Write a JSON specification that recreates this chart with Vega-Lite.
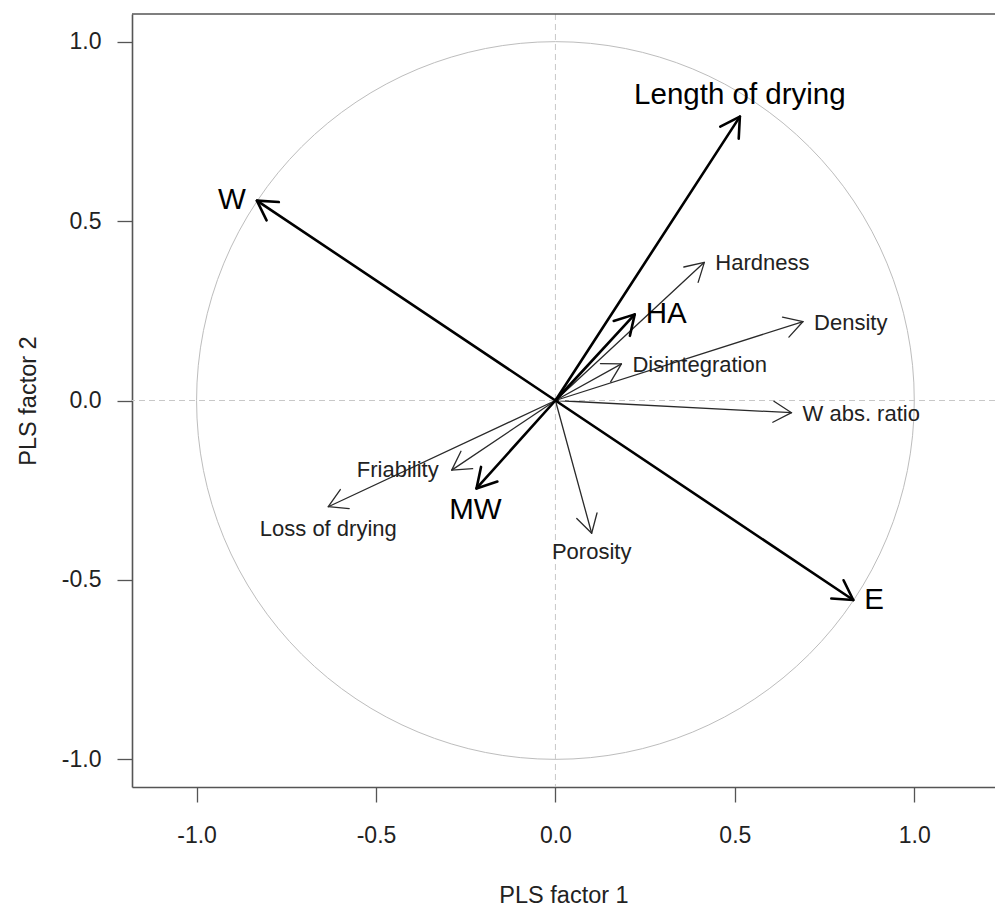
{
  "$schema": "https://vega.github.io/schema/vega-lite/v6.json",
  "width": 863,
  "height": 773,
  "autosize": {"type": "none"},
  "padding": {"left": 132, "top": 14, "right": 0, "bottom": 119},
  "background": "white",
  "config": {
    "view": {"stroke": null},
    "font": "Liberation Sans",
    "axis": {
      "grid": false, "domainColor": "#555555", "domainWidth": 1.6,
      "tickColor": "#555555", "tickWidth": 1.3, "tickSize": 15,
      "labelFont": "Liberation Sans", "labelFontSize": 23, "labelColor": "#222222",
      "titleFont": "Liberation Sans", "titleFontSize": 23.5, "titleFontWeight": "normal", "titleColor": "#222222"
    },
    "axisX": {"labelPadding": 22, "titlePadding": 36},
    "axisY": {"labelPadding": 16, "titlePadding": 21}
  },
  "datasets": {
    "vars": [
      {"name": "W", "x": -0.832, "y": 0.557, "set": "X"},
      {"name": "Length of drying", "x": 0.514, "y": 0.791, "set": "X"},
      {"name": "HA", "x": 0.221, "y": 0.240, "set": "X"},
      {"name": "E", "x": 0.830, "y": -0.556, "set": "X"},
      {"name": "MW", "x": -0.220, "y": -0.245, "set": "X"},
      {"name": "Hardness", "x": 0.415, "y": 0.385, "set": "Y"},
      {"name": "Density", "x": 0.690, "y": 0.220, "set": "Y"},
      {"name": "Disintegration", "x": 0.184, "y": 0.102, "set": "Y"},
      {"name": "W abs. ratio", "x": 0.658, "y": -0.034, "set": "Y"},
      {"name": "Friability", "x": -0.289, "y": -0.194, "set": "Y"},
      {"name": "Loss of drying", "x": -0.633, "y": -0.296, "set": "Y"},
      {"name": "Porosity", "x": 0.101, "y": -0.370, "set": "Y"}
    ]
  },
  "layer": [
    {
      "data": {"name": "vars"},
      "transform": [{"filter": "datum.set === 'Y'"}],
      "mark": {"type": "rule", "color": "#2a2a2a", "strokeWidth": 1.3, "strokeCap": "round"},
      "encoding": {
        "x": {
          "field": "x", "type": "quantitative",
          "scale": {"domain": [-1.18, 1.225], "nice": false, "zero": false},
          "axis": {
            "title": "PLS factor 1", "values": [-1, -0.5, 0, 0.5, 1],
            "labelExpr": "replace(format(datum.value, '.1f'), '\u2212', '-')"
          }
        },
        "y": {
          "field": "y", "type": "quantitative",
          "scale": {"domain": [-1.077, 1.077], "nice": false, "zero": false},
          "axis": {
            "title": "PLS factor 2", "values": [-1, -0.5, 0, 0.5, 1],
            "labelExpr": "replace(format(datum.value, '.1f'), '\u2212', '-')"
          }
        },
        "x2": {"datum": 0},
        "y2": {"datum": 0}
      }
    },
    {
      "data": {"values": [{}]},
      "mark": {"type": "point", "shape": "circle", "size": 515100, "filled": false, "stroke": "#bdbdbd", "strokeWidth": 1, "opacity": 1},
      "encoding": {
        "x": {"datum": 0, "type": "quantitative"},
        "y": {"datum": 0, "type": "quantitative"}
      }
    },
    {
      "data": {"values": [{}]},
      "mark": {"type": "rule", "color": "#c8c8c8", "strokeDash": [6, 4], "strokeWidth": 1},
      "encoding": {
        "x": {"datum": 0, "type": "quantitative"}
      }
    },
    {
      "data": {"values": [{}]},
      "mark": {"type": "rule", "color": "#c8c8c8", "strokeDash": [6, 4], "strokeWidth": 1},
      "encoding": {
        "y": {"datum": 0, "type": "quantitative"}
      }
    },
    {
      "data": {"values": [{}]},
      "mark": {"type": "rule", "color": "#555555", "strokeWidth": 1.6},
      "encoding": {
        "y": {"datum": 1.077, "type": "quantitative"}
      }
    },
    {
      "data": {"name": "vars"},
      "transform": [{"filter": "datum.set === 'Y'"}, {"calculate": "atan2(-datum.y, datum.x) * 180 / PI", "as": "ang"}],
      "mark": {"type": "point", "shape": "M-0.866,-0.5L0,0L-0.866,0.5", "size": 1764, "filled": false, "stroke": "#2a2a2a", "strokeWidth": 1.3, "strokeJoin": "round", "strokeCap": "round", "opacity": 1},
      "encoding": {
        "x": {"field": "x", "type": "quantitative"},
        "y": {"field": "y", "type": "quantitative"},
        "angle": {"field": "ang", "type": "quantitative", "scale": null}
      }
    },
    {
      "data": {"name": "vars"},
      "transform": [{"filter": "datum.set === 'X'"}],
      "mark": {"type": "rule", "color": "#000000", "strokeWidth": 2.6, "strokeCap": "round"},
      "encoding": {
        "x": {"field": "x", "type": "quantitative"},
        "y": {"field": "y", "type": "quantitative"},
        "x2": {"datum": 0},
        "y2": {"datum": 0}
      }
    },
    {
      "data": {"name": "vars"},
      "transform": [{"filter": "datum.set === 'X'"}, {"calculate": "atan2(-datum.y, datum.x) * 180 / PI", "as": "ang"}],
      "mark": {"type": "point", "shape": "M-0.866,-0.5L0,0L-0.866,0.5", "size": 1936, "filled": false, "stroke": "#000000", "strokeWidth": 2.6, "strokeJoin": "round", "strokeCap": "round", "opacity": 1},
      "encoding": {
        "x": {"field": "x", "type": "quantitative"},
        "y": {"field": "y", "type": "quantitative"},
        "angle": {"field": "ang", "type": "quantitative", "scale": null}
      }
    },
    {
      "data": {"name": "vars"},
      "transform": [{"filter": {"field": "name", "oneOf": ["Hardness", "Density", "Disintegration", "W abs. ratio"]}}],
      "mark": {"type": "text", "align": "left", "baseline": "middle", "dx": 11, "dy": 1, "font": "Liberation Sans", "fontSize": 22, "color": "#222222"},
      "encoding": {
        "x": {"field": "x", "type": "quantitative"},
        "y": {"field": "y", "type": "quantitative"},
        "text": {"field": "name"}
      }
    },
    {
      "data": {"name": "vars"},
      "transform": [{"filter": {"field": "name", "oneOf": ["Friability"]}}],
      "mark": {"type": "text", "align": "right", "baseline": "middle", "dx": -13, "dy": 0, "font": "Liberation Sans", "fontSize": 22, "color": "#222222"},
      "encoding": {
        "x": {"field": "x", "type": "quantitative"},
        "y": {"field": "y", "type": "quantitative"},
        "text": {"field": "name"}
      }
    },
    {
      "data": {"name": "vars"},
      "transform": [{"filter": {"field": "name", "oneOf": ["Loss of drying"]}}],
      "mark": {"type": "text", "align": "center", "baseline": "middle", "dx": 0, "dy": 22, "font": "Liberation Sans", "fontSize": 22, "color": "#222222"},
      "encoding": {
        "x": {"field": "x", "type": "quantitative"},
        "y": {"field": "y", "type": "quantitative"},
        "text": {"field": "name"}
      }
    },
    {
      "data": {"name": "vars"},
      "transform": [{"filter": {"field": "name", "oneOf": ["Porosity"]}}],
      "mark": {"type": "text", "align": "center", "baseline": "middle", "dx": 0, "dy": 19, "font": "Liberation Sans", "fontSize": 22, "color": "#222222"},
      "encoding": {
        "x": {"field": "x", "type": "quantitative"},
        "y": {"field": "y", "type": "quantitative"},
        "text": {"field": "name"}
      }
    },
    {
      "data": {"name": "vars"},
      "transform": [{"filter": {"field": "name", "oneOf": ["HA", "E"]}}],
      "mark": {"type": "text", "align": "left", "baseline": "middle", "dx": 11, "dy": 0, "font": "Liberation Sans", "fontSize": 29.5, "color": "#000000"},
      "encoding": {
        "x": {"field": "x", "type": "quantitative"},
        "y": {"field": "y", "type": "quantitative"},
        "text": {"field": "name"}
      }
    },
    {
      "data": {"name": "vars"},
      "transform": [{"filter": {"field": "name", "oneOf": ["W"]}}],
      "mark": {"type": "text", "align": "right", "baseline": "middle", "dx": -11, "dy": -1, "font": "Liberation Sans", "fontSize": 29.5, "color": "#000000"},
      "encoding": {
        "x": {"field": "x", "type": "quantitative"},
        "y": {"field": "y", "type": "quantitative"},
        "text": {"field": "name"}
      }
    },
    {
      "data": {"name": "vars"},
      "transform": [{"filter": {"field": "name", "oneOf": ["MW"]}}],
      "mark": {"type": "text", "align": "center", "baseline": "middle", "dx": -1, "dy": 21.5, "font": "Liberation Sans", "fontSize": 29.5, "color": "#000000"},
      "encoding": {
        "x": {"field": "x", "type": "quantitative"},
        "y": {"field": "y", "type": "quantitative"},
        "text": {"field": "name"}
      }
    },
    {
      "data": {"name": "vars"},
      "transform": [{"filter": {"field": "name", "oneOf": ["Length of drying"]}}],
      "mark": {"type": "text", "align": "center", "baseline": "middle", "dx": 0, "dy": -22, "font": "Liberation Sans", "fontSize": 29.5, "color": "#000000"},
      "encoding": {
        "x": {"field": "x", "type": "quantitative"},
        "y": {"field": "y", "type": "quantitative"},
        "text": {"field": "name"}
      }
    }
  ]
}
